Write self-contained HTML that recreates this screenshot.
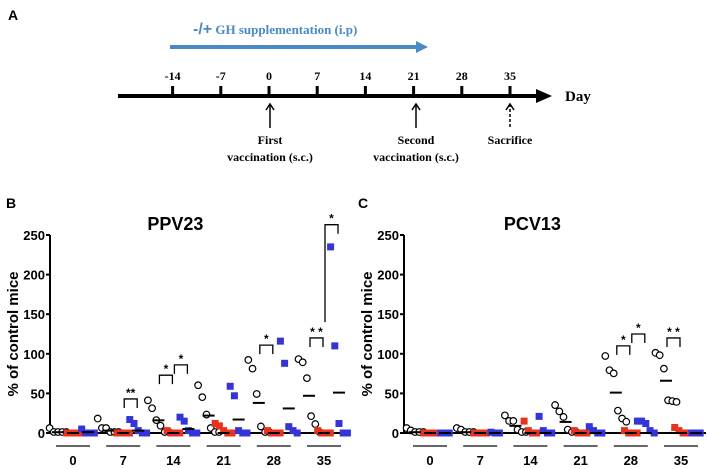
<!DOCTYPE html>
<html><head><meta charset="utf-8"><style>
body{margin:0;background:#fff;}
svg{display:block;font-family:"Liberation Sans",sans-serif;}
.ser{font-family:"Liberation Serif",serif;font-weight:bold;}
</style></head><body>
<svg id="fig" width="708" height="469" viewBox="0 0 708 469">
<g>
<text x="8" y="20" font-size="14" font-weight="bold">A</text>
<text x="193" y="34" font-size="13" fill="#4a8ac4" class="ser"><tspan font-size="16" font-family="Liberation Sans">-/+</tspan> GH supplementation (i.p)</text>
<line x1="170" y1="47" x2="418" y2="47" stroke="#4a8ac4" stroke-width="4"/>
<polygon points="416,41 428,47 416,53" fill="#4a8ac4"/>
<line x1="118" y1="96" x2="540" y2="96" stroke="#000" stroke-width="4"/>
<polygon points="536,89 552,96 536,103" fill="#000"/>
<text x="565" y="101" font-size="15" class="ser">Day</text>
<g id="tl"></g>
<g>
<line x1="270" y1="104" x2="270" y2="128" stroke="#000" stroke-width="1.5"/><polyline points="266,110 270,104 274,110" fill="none" stroke="#000" stroke-width="1.5"/>
<text x="270" y="144" font-size="12" text-anchor="middle" class="ser">First</text>
<text x="270" y="161" font-size="12" text-anchor="middle" class="ser">vaccination (s.c.)</text></g>
<g>
<line x1="416" y1="104" x2="416" y2="128" stroke="#000" stroke-width="1.5"/><polyline points="412,110 416,104 420,110" fill="none" stroke="#000" stroke-width="1.5"/>
<text x="416" y="144" font-size="12" text-anchor="middle" class="ser">Second</text>
<text x="416" y="161" font-size="12" text-anchor="middle" class="ser">vaccination (s.c.)</text></g>
<g>
<line x1="510" y1="104" x2="510" y2="128" stroke="#000" stroke-width="1.5" stroke-dasharray="3,2"/><polyline points="506,110 510,104 514,110" fill="none" stroke="#000" stroke-width="1.5"/>
<text x="510" y="144" font-size="12" text-anchor="middle" class="ser">Sacrifice</text></g>
</g>
<text x="6" y="208" font-size="14" font-weight="bold">B</text>
<text x="358" y="208" font-size="14" font-weight="bold">C</text>
<g id="pb"></g>
<g id="pc"></g>
</svg>
<script>
const tlDays=[-14,-7,0,7,14,21,28,35];
const days=["0","7","14","21","28","35"];
// PPV23 values per day: black (control), red, blue
const ppvBlack=[[5,0,0,0,0],[17,5,5,0,0,0],[40,30,15,8,0,0],[59,44,22,5,0,0],[91,80,48,7,0,0],[92,88,68,20,10,0]];
const ppvRed=[[0,0,0,0],[0,0,0,0],[3,0,0,0],[12,9,3,0,0],[3,0,0,0],[3,0,0,0]];
const ppvBlue=[[5,0,0,0],[17,12,3,0,0],[20,15,3,0,0],[59,47,3,0,0],[116,88,8,3,0],[235,110,12,0,0]];
const ppvBlackMean=[1,3,16,22,38,47];
const ppvRedMean=[0,0,0,0,0,0];
const ppvBlueMean=[1,3,5,17,31,51];
// PCV13
const pcvBlack=[[5,2,0,0,0],[5,3,0,0,0],[21,14,14,3,0,0],[34,26,19,3,0,0],[96,78,74,27,17,13],[100,97,80,40,39,38]];
const pcvRed=[[0,0,0,0],[0,0,0,0],[15,3,0,0],[3,0,0,0],[3,0,0,0],[7,3,0,0]];
const pcvBlue=[[0,0,0],[1,0,0],[21,3,0,0],[8,3,0,0],[15,15,12,3,0],[0,0,0]];
const pcvBlackMean=[1,1,9,14,51,66];
const pcvRedMean=[0,0,0,0,0,0];
const pcvBlueMean=[0,0,0,0,0,0];
const yTicks=[0,50,100,150,200,250];
// significance: [dayIndex, fromSeries, toSeries, topValue, label, leftLegBottomValue]
const ppvSig=[[1,1,2,43,"**",null],[2,0,1,73,"*",null],[2,1,2,86,"*",null],[4,0,1,111,"*",null],[5,0,1,120,"* *",null],[5,1,2,263,"*",140]];
const pcvSig=[[4,0,1,110,"*",null],[4,1,2,125,"*",null],[5,0,1,120,"* *",null]];

const NS="http://www.w3.org/2000/svg";
function mk(p,t,a){const e=document.createElementNS(NS,t);for(const k in a)e.setAttribute(k,a[k]);p.appendChild(e);return e;}

const tl=document.getElementById('tl');
const tx=d=>269+(d*(510-269)/35);
tlDays.forEach(d=>{
 const l=mk(tl,'line',{x1:tx(d),y1:86,x2:tx(d),y2:96,stroke:'#000','stroke-width':3});
 
 
 const t=mk(tl,'text',{x:tx(d),y:80,'font-size':12,'text-anchor':'middle','class':'ser'});t.textContent=d;
 
 
});

function chart(g,title,axisX,g0,black,red,blue,bm,rm,blm,sig){
 const y0=433,yTop=235;
 const ys=v=>y0-v*(y0-yTop)/250;
 const gx=i=>g0+i*50.2;
 const sx=(i,s)=>gx(i)+(s-1)*15;
 const t=mk(g,'text',{x:gx(2)+2,y:230,'font-size':18,'font-weight':'bold','text-anchor':'middle'});t.textContent=title;
 
 
 const yl=mk(g,'text',{x:0,y:0,'font-size':15,'font-weight':'bold','text-anchor':'middle',transform:`translate(${axisX-32},${ys(125)}) rotate(-90)`});yl.textContent='% of control mice';
 
 
 mk(g,'line',{x1:axisX,y1:yTop,x2:axisX,y2:y0,stroke:'#000','stroke-width':2});
 mk(g,'line',{x1:axisX,y1:y0,x2:gx(5)+25,y2:y0,stroke:'#000','stroke-width':2});
 yTicks.forEach(v=>{
  const l=mk(g,'line',{x1:axisX-4,y1:ys(v),x2:axisX,y2:ys(v),stroke:'#000','stroke-width':2});
  
  const tt=mk(g,'text',{x:axisX-5,y:ys(v)+5,'font-size':13,'font-weight':'bold','text-anchor':'end'});tt.textContent=v;
  
  
 });
 days.forEach((d,i)=>{
  const l=mk(g,'line',{x1:gx(i)-17,y1:446,x2:gx(i)+17,y2:446,stroke:'#333','stroke-width':1.5});
  
  const tt=mk(g,'text',{x:gx(i),y:465,'font-size':13,'font-weight':'bold','text-anchor':'middle'});tt.textContent=d;
  
  
 });
 const series=[[black,'#000','circle'],[red,'#e8321e','sq'],[blue,'#3434d8','sq']];
 series.forEach(([arr,col,shape],s)=>{
  arr.forEach((vals,i)=>{
   const n=vals.length;
   vals.forEach((v,k)=>{
    const x=sx(i,s)+(k-(n-1)/2)*4.2, y=ys(v);
    let e;
    if(shape==='circle') e=mk(g,'circle',{cx:x,cy:y-1,r:3.3,fill:'#fff',stroke:'#000','stroke-width':1.2});
    else e=mk(g,'rect',{x:x-3.5,y:y-3.5,width:7,height:7,fill:col});
    
    
   });
  });
 });
 [bm,rm,blm].forEach((m,s)=>m.forEach((v,i)=>{
  const e=mk(g,'line',{x1:sx(i,s)-6,y1:ys(v),x2:sx(i,s)+6,y2:ys(v),stroke:'#000','stroke-width':2});
  
  
 }));
 sig.forEach(([i,a,b,v,lab,leg])=>{
  const x1=sx(i,a)+1,x2=sx(i,b)-1,y=ys(v);
  const yl1=leg==null?y+9:ys(leg);
  const e=mk(g,'polyline',{points:`${x1},${yl1} ${x1},${y} ${x2},${y} ${x2},${y+9}`,fill:'none',stroke:'#000','stroke-width':1.3});
  
  
  const tt=mk(g,'text',{x:(x1+x2)/2,y:y-2,'font-size':12,'font-weight':'bold','text-anchor':'middle'});tt.textContent=lab;
  
  
 });
}
chart(document.getElementById('pb'),'PPV23',50,73,ppvBlack,ppvRed,ppvBlue,ppvBlackMean,ppvRedMean,ppvBlueMean,ppvSig);
chart(document.getElementById('pc'),'PCV13',404,430,pcvBlack,pcvRed,pcvBlue,pcvBlackMean,pcvRedMean,pcvBlueMean,pcvSig);
</script>
</body></html>
